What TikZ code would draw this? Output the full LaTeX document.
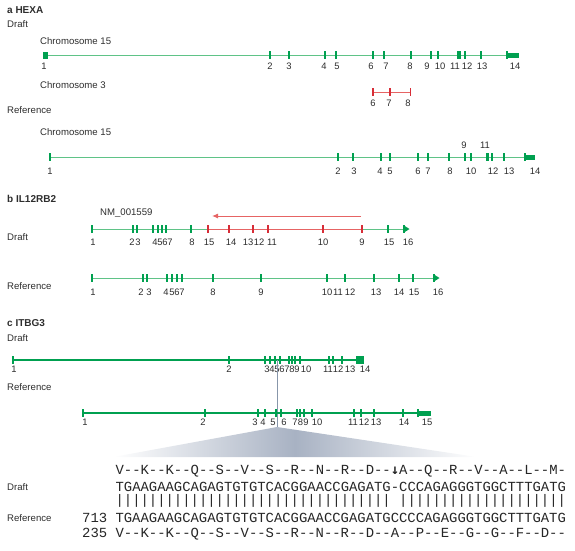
\documentclass[tikz,border=0pt]{standalone}
\usepackage{fontspec}
\setmainfont{Liberation Sans}
\setmonofont{Liberation Mono}
\newfontfamily\arrowfont{DejaVu Sans Mono}
\usepackage{xcolor}
\usepackage{tikz}
\usetikzlibrary{arrows.meta}
\definecolor{genegreen}{RGB}{95, 195, 135}
\definecolor{exongreen}{RGB}{0, 160, 80}
\definecolor{genered}{RGB}{230, 100, 100}
\definecolor{exonred}{RGB}{215, 45, 55}
\definecolor{textgray}{RGB}{45, 45, 45}
\definecolor{linkgray}{RGB}{135, 150, 170}
\definecolor{fangray}{RGB}{168, 178, 195}

\begin{document}
\begin{tikzpicture}[x=1pt, y=-1pt,
    label/.style={inner sep=0pt, anchor=west, text=textgray, font=\fontsize{9.6}{11}\selectfont},
    head/.style={label, font=\fontsize{10}{12}\selectfont\bfseries},
    num/.style={inner sep=0pt, text=textgray, font=\fontsize{9.4}{11}\selectfont},
    seq/.style={inner sep=0pt, anchor=base west, text=black!85, font=\fontsize{13.9}{15}\selectfont\ttfamily},
    gline/.style={draw=genegreen, line width=1pt},
    rline/.style={draw=genered, line width=1pt},
    cline/.style={draw=exongreen, line width=1.8pt},
    gexon/.style={draw=exongreen, line width=1.3pt},
    rexon/.style={draw=exonred, line width=1.3pt}]
    \useasboundingbox (0,0) rectangle (575,550);

    % a HEXA
    \node[head] (hexa) at (7,10) {a HEXA};
    \node[label] (hexadraft) at (7,24) {Draft};
    \node[label] (chrda) at (40,41) {Chromosome 15};
    \draw[gline] (45,55) -- (508,55);
    \fill[exongreen] (43,51.5) rectangle (47.5,58.5);
    \foreach \x/\w in {270/1.5, 289/1.2, 325/1.2, 336/1.8, 373/1.8, 384/2.8, 411/2.8, 431/1.5, 438/1.2, 459/3.5, 465/1.2, 481/1.5, 507/1.5}
        \draw[gexon, line width=\w pt] (\x,51) -- (\x,59);
    \fill[exongreen] (507,53) rectangle (519,57.5);
    \foreach \x/\t in {44/1, 270/2, 289/3, 324/4, 337/5, 371/6, 386/7, 410/8, 427/9, 440/10, 455/11, 467/12, 482/13, 515/14}
        \node[num] (hd\t) at (\x,66) {\t};

    \node[label] (chrdb) at (40,85) {Chromosome 3};
    \draw[rline] (373,92) -- (410,92);
    \foreach \x/\w in {373/2.5, 390/2.5, 410/1}
        \draw[rexon, line width=\w pt] (\x,88) -- (\x,96);
    \foreach \x/\t in {373/6, 389/7, 408/8}
        \node[num] (hc\t) at (\x,103) {\t};

    \node[label] (hexaref) at (7,110) {Reference};
    \node[label] (chrr) at (40,132) {Chromosome 15};
    \draw[gline] (50,157) -- (526,157);
    \foreach \x/\w in {50/2.2, 338/1.2, 353/1.2, 381/1.2, 390/1.2, 418/2.2, 428/2.2, 449/2.5, 465/1.2, 471/1.2, 487/3, 492/1.2, 504/1.2, 525/1.5}
        \draw[gexon, line width=\w pt] (\x,153) -- (\x,161);
    \fill[exongreen] (525,155) rectangle (535,159.5);
    \foreach \x/\t in {50/1, 338/2, 354/3, 380/4, 390/5, 418/6, 428/7, 450/8, 471/10, 493/12, 509/13, 535/14}
        \node[num] (hr\t) at (\x,171) {\t};
    \foreach \x/\t in {464/9, 485/11}
        \node[num] (hr\t) at (\x,145) {\t};

    % b IL12RB2
    \node[head] (il) at (7,199) {b IL12RB2};
    \node[label] (nm) at (100,213) {NM\_001559};
    \coordinate (nmstart) at (361,216);
    \coordinate (nmend) at (212,216);
    \draw[-{Latex[length=6pt, width=5pt]}, genered, line width=1pt] (nmstart) -- (nmend);

    \node[label] (ildraft) at (7,237) {Draft};
    \draw[gline] (92,229) -- (208,229);
    \draw[rline] (208,229) -- (362,229);
    \draw[gline] (362,229) -- (405,229);
    \foreach \x in {92, 133, 137, 153, 158, 162, 166, 191, 388, 404}
        \draw[gexon] (\x,225) -- (\x,233);
    \foreach \x/\w in {208/1.3, 229/1.3, 253/2.5, 268/1.3, 323/1.3, 362/1.3}
        \draw[rexon, line width=\w pt] (\x,225) -- (\x,233);
    \fill[exongreen] (404,225.5) -- (409.5,229) -- (404,232.5) -- cycle;
    \foreach \x/\t [count=\i] in {93/1, 132/2, 138/3, 155/4, 160/5, 165/6, 170/7, 192/8, 209/15, 231/14, 248/13, 259/12, 272/11, 323/10, 362/9, 389/15, 408/16}
        \node[num] (ild\i) at (\x,242) {\t};

    \node[label] (ilref) at (7,286) {Reference};
    \draw[gline] (92,278) -- (434,278);
    \foreach \x/\w in {92/1.3, 143/1.3, 147/1.3, 167/1.3, 172/1.3, 177/1.3, 182/1.3, 213/1.3, 261/1.3, 327/1.3, 345/2.5, 374/1.3, 399/1.3, 413/1.3, 434/1.3}
        \draw[gexon, line width=\w pt] (\x,274) -- (\x,282);
    \fill[exongreen] (434,274.5) -- (439.5,278) -- (434,281.5) -- cycle;
    \foreach \x/\t in {93/1, 141/2, 149/3, 166/4, 172/5, 177/6, 182/7, 213/8, 261/9, 327/10, 338/11, 350/12, 376/13, 399/14, 414/15, 438/16}
        \node[num] (ilr\t) at (\x,292) {\t};

    % c ITBG3
    \node[head] (itb) at (7,323) {c ITBG3};
    \node[label] (itbdraft) at (7,338) {Draft};
    \draw[cline] (13,360) -- (357,360);
    \foreach \x/\w in {13/1.2, 229/1.2, 265/1.2, 270/1.2, 275/1.2, 280/1.2, 289/2, 291.5/2, 295/1.2, 300/1.2, 329/1.2, 333/1.2, 342/1.2}
        \draw[gexon, line width=\w pt] (\x,356) -- (\x,364);
    \fill[exongreen] (356,356) rectangle (364,364);
    \foreach \x/\t in {14/1, 229/2, 267/3, 272/4, 277/5, 282/6, 287/7, 292/8, 297/9, 306/10, 328/11, 338/12, 350/13, 365/14}
        \node[num] (cd\t) at (\x,369) {\t};

    \node[label] (itbref) at (7,387) {Reference};
    \shade[left color=white, right color=white, middle color=fangray] (277,427) -- (477,457) -- (113,457) -- cycle;
    \coordinate (cut) at (277,360);
    \coordinate (apex) at (277,427);
    \draw[linkgray, line width=0.9pt] (cut) -- (apex);
    \draw[cline] (83,413) -- (419,413);
    \foreach \x/\w in {83/1.2, 205/1.2, 258/1.2, 265/2, 276/1.2, 281/1.2, 297/1.2, 300/1.2, 304/1.2, 312/2, 354/1.2, 361/1.2, 374/1.2, 403/1.2, 418/1.4}
        \draw[gexon, line width=\w pt] (\x,409) -- (\x,417);
    \fill[exongreen] (418,410.5) rectangle (431,415.5);
    \foreach \x/\t in {85/1, 203/2, 255/3, 263/4, 273/5, 284/6, 295/7, 300.5/8, 306/9, 317/10, 353/11, 364/12, 376/13, 404/14, 427/15}
        \node[num] (cr\t) at (\x,422) {\t};

    % alignment
    \node[label] (seqdraft) at (7,487) {Draft};
    \node[label] (seqref) at (7,518) {Reference};
    \node[seq] (dprot) at (115.4,474) {V--K--K--Q--S--V--S--R--N--R--D--\makebox[0.6em]{\arrowfont\bfseries ↓}A--Q--R--V--A--L--M-};
    \node[seq] (ddna) at (115.4,491) {TGAAGAAGCAGAGTGTGTCACGGAACCGAGATG-CCCAGAGGGTGGCTTTGATG};
    \node[seq] (bars) at (115.4,504.5) {|||||||||||||||||||||||||||||||||\hspace{0.6em}||||||||||||||||||||};
    \node[seq] (rdna) at (82,522) {713 TGAAGAAGCAGAGTGTGTCACGGAACCGAGATGCCCCAGAGGGTGGCTTTGATG};
    \node[seq] (rprot) at (82,537) {235 V--K--K--Q--S--V--S--R--N--R--D--A--P--E--G--G--F--D--};
\end{tikzpicture}
\end{document}
